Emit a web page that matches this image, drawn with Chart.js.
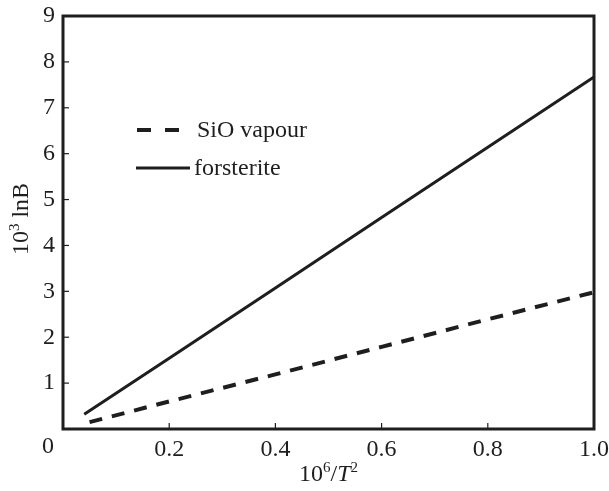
<!DOCTYPE html>
<html><head><meta charset="utf-8">
<script src="https://cdn.jsdelivr.net/npm/chart.js@4.4.0/dist/chart.umd.min.js"></script>
<style>html,body{margin:0;padding:0;background:#fff;}canvas{display:block;}</style>
</head><body>
<canvas id="c" width="609" height="491"></canvas>
<script>
const seriesNames = ['SiO vapour', 'forsterite'];
const sioX = [0.05, 0.2, 0.4, 0.6, 0.8, 1.0];
const sioY = [0.15, 0.60, 1.19, 1.79, 2.39, 2.98];
const forX = [0.04, 0.2, 0.4, 0.6, 0.8, 1.0];
const forY = [0.32, 1.54, 3.07, 4.61, 6.14, 7.67];
const xTicks = [0.2, 0.4, 0.6, 0.8, 1.0];
const yTicks = [1, 2, 3, 4, 5, 6, 7, 8, 9];

const FONT = '"Liberation Serif", "Times New Roman", serif';
const INK = '#1e1e1e';
const FS = 24;

const pts = (xs, ys) => xs.map((x, i) => ({x, y: ys[i]}));

const deco = {
  id: 'deco',
  afterDraw(chart) {
    const {ctx, chartArea: a, scales: {x, y}} = chart;
    ctx.save();
    ctx.strokeStyle = INK;
    ctx.lineWidth = 1.2;
    yTicks.forEach(v => {
      if (v >= 9) return;
      const py = y.getPixelForValue(v);
      ctx.beginPath(); ctx.moveTo(a.left, py); ctx.lineTo(a.left + 6, py); ctx.stroke();
    });
    xTicks.forEach(v => {
      if (v >= 1) return;
      const px = x.getPixelForValue(v);
      ctx.beginPath(); ctx.moveTo(px, a.bottom); ctx.lineTo(px, a.bottom - 6); ctx.stroke();
    });
    ctx.lineWidth = 3;
    ctx.strokeRect(a.left, a.top, a.right - a.left, a.bottom - a.top);
    ctx.fillStyle = INK;
    ctx.font = FS + 'px ' + FONT;
    ctx.textAlign = 'center'; ctx.textBaseline = 'middle';
    ctx.fillText('0', 48, 447);
    // legend
    const lx0 = 137, ly = [130, 168];
    chart.data.datasets.forEach((ds, i) => {
      ctx.lineWidth = ds.borderWidth;
      if (i === 0) {
        ctx.setLineDash([14, 14]);
        ctx.beginPath(); ctx.moveTo(lx0, ly[i]); ctx.lineTo(lx0 + 43, ly[i]); ctx.stroke();
      } else {
        ctx.setLineDash([]);
        ctx.beginPath(); ctx.moveTo(lx0 - 1, ly[i]); ctx.lineTo(190, ly[i]); ctx.stroke();
      }
      ctx.setLineDash([]);
      ctx.textAlign = 'left';
      ctx.fillText(ds.label, i === 0 ? 197 : 194, ly[i] + 1);
    });
    // x title
    ctx.textBaseline = 'alphabetic';
    const cx = (a.left + a.right) / 2;
    const by = 481;
    const parts = [
      ['10', FS + 'px ' + FONT, 0], ['6', '15px ' + FONT, -9], ['/', FS + 'px ' + FONT, 0],
      ['T', 'italic ' + FS + 'px ' + FONT, 0], ['2', '15px ' + FONT, -9]
    ];
    let w = 0;
    parts.forEach(p => { ctx.font = p[1]; w += ctx.measureText(p[0]).width; });
    let px = cx - w / 2;
    parts.forEach(p => { ctx.font = p[1]; ctx.fillText(p[0], px, by + p[2]); px += ctx.measureText(p[0]).width; });
    // y title
    ctx.translate(28, 219);
    ctx.rotate(-Math.PI / 2);
    const yparts = [['10', FS + 'px ' + FONT, 0], ['3', '15px ' + FONT, -9], [' lnB', FS + 'px ' + FONT, 0]];
    w = 0;
    yparts.forEach(p => { ctx.font = p[1]; w += ctx.measureText(p[0]).width; });
    px = -w / 2;
    yparts.forEach(p => { ctx.font = p[1]; ctx.fillText(p[0], px, p[2]); px += ctx.measureText(p[0]).width; });
    ctx.restore();
  }
};

new Chart(document.getElementById('c'), {
  type: 'scatter',
  data: {
    datasets: [
      { label: seriesNames[0], data: pts(sioX, sioY), showLine: true, borderColor: INK, borderWidth: 4,
        borderDash: [13, 10], pointRadius: 0, fill: false },
      { label: seriesNames[1], data: pts(forX, forY), showLine: true, borderColor: INK, borderWidth: 3,
        pointRadius: 0, fill: false }
    ]
  },
  options: {
    responsive: false,
    animation: false,
    devicePixelRatio: 1,
    layout: { padding: 0 },
    plugins: { legend: { display: false }, tooltip: { enabled: false } },
    scales: {
      x: {
        type: 'linear', min: 0, max: 1,
        afterBuildTicks: s => { s.ticks = [0].concat(xTicks).map(v => ({value: v})); },
        afterFit: s => { s.height = 62; s.paddingLeft = 0; s.paddingRight = 15; },
        grid: { display: false, drawTicks: false },
        border: { display: false },
        ticks: { color: INK, font: { family: FONT, size: FS }, padding: 6, maxRotation: 0,
          callback: v => v === 0 ? '' : v.toFixed(1) }
      },
      y: {
        type: 'linear', min: 0, max: 9,
        afterBuildTicks: s => { s.ticks = [0].concat(yTicks).map(v => ({value: v})); },
        afterFit: s => { s.width = 63; s.paddingTop = 16; s.paddingBottom = 0; },
        grid: { display: false, drawTicks: false },
        border: { display: false },
        ticks: { color: INK, font: { family: FONT, size: FS }, padding: 8,
          callback: v => v === 0 ? '' : String(v) }
      }
    }
  },
  plugins: [deco]
});
</script>
</body></html>
